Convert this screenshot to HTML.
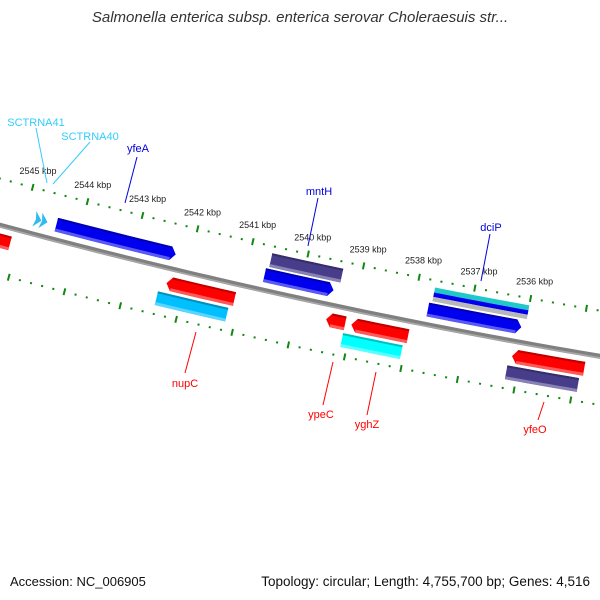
<!DOCTYPE html>
<html><head><meta charset="utf-8"><style>
html,body{margin:0;padding:0;background:#fff;}
svg{display:block;font-family:"Liberation Sans",sans-serif;}
</style></head><body>
<svg id="map" width="600" height="600" viewBox="0 0 600 600">
<text x="300" y="22" text-anchor="middle" font-size="15" font-style="italic" fill="#333">Salmonella enterica subsp. enterica serovar Choleraesuis str...</text>
<g id="ticks"></g>
<g id="backbone"></g>
<g id="features"></g>
<g id="labels" font-size="11">
<line x1="36" y1="128" x2="47" y2="183" stroke="#33ccff" stroke-width="1"/>
<text x="36" y="126" text-anchor="middle" fill="#33ccff">SCTRNA41</text>
<line x1="90" y1="142" x2="53" y2="184" stroke="#33ccff" stroke-width="1"/>
<text x="90" y="140" text-anchor="middle" fill="#33ccff">SCTRNA40</text>
<line x1="137" y1="157" x2="125" y2="203" stroke="#0000dd" stroke-width="1"/>
<text x="138" y="152" text-anchor="middle" fill="#0000dd">yfeA</text>
<line x1="318" y1="198" x2="308" y2="246" stroke="#0000dd" stroke-width="1"/>
<text x="319" y="195" text-anchor="middle" fill="#0000dd">mntH</text>
<line x1="490" y1="234" x2="481" y2="281" stroke="#0000dd" stroke-width="1"/>
<text x="491" y="231" text-anchor="middle" fill="#0000dd">dciP</text>
<line x1="196" y1="332" x2="185" y2="373" stroke="#ff0000" stroke-width="1"/>
<text x="185" y="387" text-anchor="middle" fill="#ff0000">nupC</text>
<line x1="333" y1="362" x2="323" y2="405" stroke="#ff0000" stroke-width="1"/>
<text x="321" y="418" text-anchor="middle" fill="#ff0000">ypeC</text>
<line x1="376" y1="372" x2="367" y2="415" stroke="#ff0000" stroke-width="1"/>
<text x="367" y="428" text-anchor="middle" fill="#ff0000">yghZ</text>
<line x1="544" y1="402" x2="538" y2="420" stroke="#ff0000" stroke-width="1"/>
<text x="535" y="433" text-anchor="middle" fill="#ff0000">yfeO</text>
</g>
<text x="10" y="586" font-size="13" fill="#111">Accession: NC_006905</text>
<text x="590" y="586" font-size="13.5" fill="#111" text-anchor="end">Topology: circular; Length: 4,755,700 bp; Genes: 4,516</text>
</svg>
<script>
const featureNames=["left-red","yfeA","mntH","dciP","mntH-hit","dciP-hit-a","dciP-hit-b","dciP-hit-c","SCTRNA41","SCTRNA40","nupC","ypeC","yghZ","yfeO","nupC-hit","yghZ-hit","yfeO-hit"];
const featureStart=[2545.13,2542.27,2539.43,2536.07,2539.34,2536.0,2536.0,2536.0,2544.70,2544.59,2541.09,2539.11,2537.99,2534.86,2541.16,2538.05,2534.92];
const featureEnd=[2545.6,2544.43,2540.67,2537.74,2540.62,2537.69,2537.69,2537.69,2544.83,2544.72,2542.31,2539.45,2539.00,2536.14,2542.42,2539.11,2536.19];
const featureSlot=["o1","i1","i1","i1","i2","i2a","i2b","i2c","i1","i1","o1","o1","o1","o1","o2","o2","o2"];
const featureArrow=["left","right","right","right","none","none","none","none","tip","tip","left","left","left","left","none","none","none"];
const featureColor=["#ff0000","#0000ee","#0000ee","#0000ee","#483d8b","#20c8c8","#0000ee","#b8b8b8","#33bbee","#33bbee","#ff0000","#ff0000","#ff0000","#ff0000","#00bfff","#00ffff","#483d8b"];
const tickMajor=[2536,2537,2538,2539,2540,2541,2542,2543,2544,2545];
const tickLabels=["2536 kbp","2537 kbp","2538 kbp","2539 kbp","2540 kbp","2541 kbp","2542 kbp","2543 kbp","2544 kbp","2545 kbp"];

const NS="http://www.w3.org/2000/svg";
const CX=1660, CY=-5933;
const R_IN_TICK=6333, R_BB=6378, R_OUT_TICK=6426;
const slotR={i1:[6356,6370],i2:[6340,6354],i2a:[6340,6345],i2b:[6345,6349.5],i2c:[6349.5,6354],o1:[6386,6400],o2:[6403,6417]};
function ang(k){return (104.89-(2545-k)*0.513)*Math.PI/180;}
function pt(k,r){const a=ang(k);return [CX+r*Math.cos(a),CY+r*Math.sin(a)];}
function mk(tag,attrs,parent){const e=document.createElementNS(NS,tag);for(const a in attrs)e.setAttribute(a,attrs[a]);parent.appendChild(e);return e;}
function arcPts(k1,k2,r,n){const p=[];for(let i=0;i<=n;i++){p.push(pt(k1+(k2-k1)*i/n,r));}return p;}
function ps(p){return p.map(q=>q[0].toFixed(2)+","+q[1].toFixed(2)).join(" ");}

const tg=document.getElementById("ticks");
for(let i=0;i<=60;i++){
  const k=2534+i*0.2;
  const major=Math.abs(k-Math.round(k))<1e-6;
  [R_IN_TICK,R_OUT_TICK].forEach(r=>{
    const h=major?3.5:1;
    const a=pt(k,r-h),b=pt(k,r+h);
    const l=mk("line",{x1:a[0],y1:a[1],x2:b[0],y2:b[1],stroke:"#118811","stroke-width":2},tg);
    
    
  });
}
tickMajor.forEach((k,i)=>{
  const p=pt(k,R_IN_TICK-17);
  const t=mk("text",{x:p[0]+1,y:p[1]+3,"text-anchor":"middle","font-size":"9",fill:"#222"},tg);
  t.textContent=tickLabels[i];
  
  
});

const bg=document.getElementById("backbone");
const b1=mk("polyline",{points:ps(arcPts(2546,2534,R_BB,60)),fill:"none",stroke:"#808080","stroke-width":5},bg);


const b2=mk("polyline",{points:ps(arcPts(2546,2534,R_BB+1.5,60)),fill:"none",stroke:"#a8a8a8","stroke-width":1.5},bg);



function shade(c,f){const n=parseInt(c.slice(1),16);let r=n>>16,g=(n>>8)&255,b=n&255;
  if(f>0){r+=(255-r)*f;g+=(255-g)*f;b+=(255-b)*f;}else{r*=1+f;g*=1+f;b*=1+f;}
  return "rgb("+Math.round(r)+","+Math.round(g)+","+Math.round(b)+")";}

const fg=document.getElementById("features");
featureNames.forEach((name,i)=>{
  const k1=featureStart[i],k2=featureEnd[i];
  const [ri,ro]=slotR[featureSlot[i]];
  const rm=(ri+ro)/2, ah=0.09, dir=featureArrow[i];
  let poly;
  if(dir==="right"){
    poly=arcPts(k2,k1+ah,ri,10).concat([pt(k1,rm)]).concat(arcPts(k1+ah,k2,ro,10));
  }else if(dir==="left"){
    poly=arcPts(k1,k2-ah,ri,10).concat([pt(k2,rm)]).concat(arcPts(k2-ah,k1,ro,10));
  }else if(dir==="tip"){
    poly=[pt(k2,ri-1),pt(k1,rm),pt(k2,ro+1),pt(k2-0.03,rm)];
  }else{
    poly=arcPts(k2,k1,ri,10).concat(arcPts(k1,k2,ro,10));
  }
  const g=mk("g",{},fg);
  
  
  mk("polygon",{points:ps(poly),fill:featureColor[i]},g);
  if(dir!=="tip" && !/i2[abc]/.test(featureSlot[i])){
    const a1=k2-(dir==="left"?ah:0), a2=k1+(dir==="right"?ah:0);
    const top=arcPts(a1,a2,ri,8).concat(arcPts(a2,a1,ri+2,8));
    mk("polygon",{points:ps(top),fill:shade(featureColor[i],-0.25)},g);
    const bot=arcPts(a1,a2,ro-3,8).concat(arcPts(a2,a1,ro,8));
    mk("polygon",{points:ps(bot),fill:shade(featureColor[i],0.35)},g);
  }
});
</script>
</body></html>
